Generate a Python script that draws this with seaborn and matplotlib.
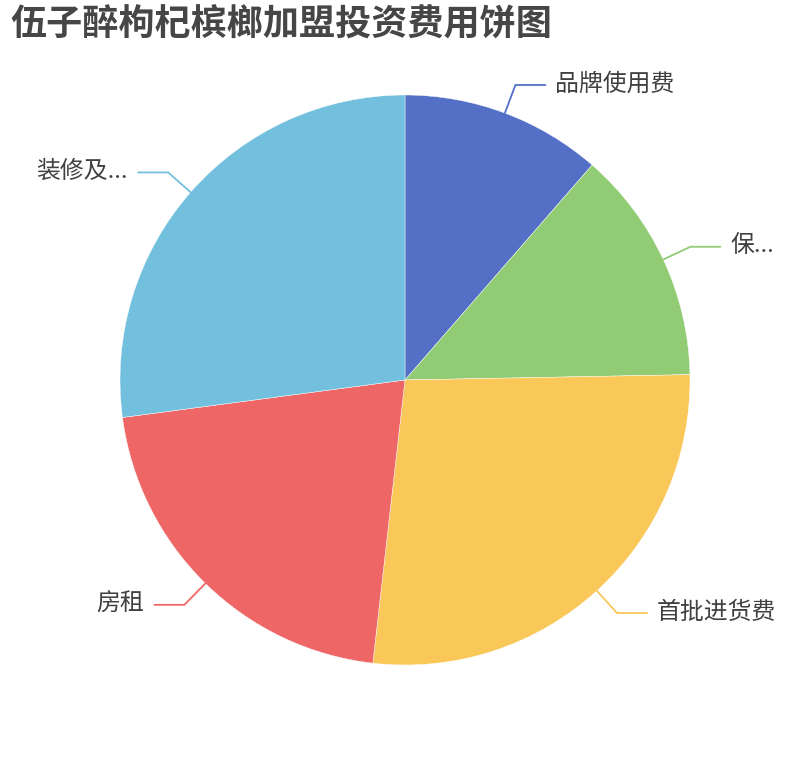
import numpy as np
import matplotlib
matplotlib.use("Agg")
import matplotlib.pyplot as plt
import seaborn as sns

# shares (clockwise from 12 o'clock)
labels = ["品牌使用费", "保...", "首批进货费", "房租", "装修及..."]
values = [11.4, 13.3, 27.1, 21.1, 27.1]
colors = ["#5470c6", "#91cc75", "#fac858", "#ee6666", "#73c0de"]

title = "伍子醉枸杞槟榔加盟投资费用饼图"

sns.set_theme(style="white")
plt.rcParams["font.family"] = ["Noto Sans CJK SC", "DejaVu Sans"]

W, H = 810, 760
fig = plt.figure(figsize=(W / 100, H / 100), dpi=100)
ax = fig.add_axes([0, 0, 1, 1])

cx, cy, r = 405, H - 380, 285
wedges, _ = ax.pie(values, colors=sns.color_palette(colors), startangle=90,
                   counterclock=False, center=(cx, cy), radius=r,
                   wedgeprops=dict(linewidth=0.3, edgecolor="white"))
ax.set_xlim(0, W)
ax.set_ylim(0, H)
ax.set_aspect("equal")
ax.axis("off")

# label lines: radial stub then horizontal leg, text beside it
for w, lab, col in zip(wedges, labels, colors):
    mid = np.deg2rad((w.theta1 + w.theta2) / 2)
    x0, y0 = cx + r * np.cos(mid), cy + r * np.sin(mid)
    x1, y1 = cx + (r + 30) * np.cos(mid), cy + (r + 30) * np.sin(mid)
    side = 1 if np.cos(mid) >= 0 else -1
    x2 = x1 + side * 30
    ax.plot([x0, x1, x2], [y0, y1, y1], color=col, lw=1.3,
            solid_joinstyle="miter")
    ax.text(x2 + side * 10, y1 + 1, lab, fontsize=17.2, color="#404040",
            ha="left" if side > 0 else "right", va="center")

fig.text(10 / W, 1 - 25 / H, title, fontsize=26, fontweight="bold",
         color="#464646", ha="left", va="center")

fig.savefig("out.png", dpi=100)
